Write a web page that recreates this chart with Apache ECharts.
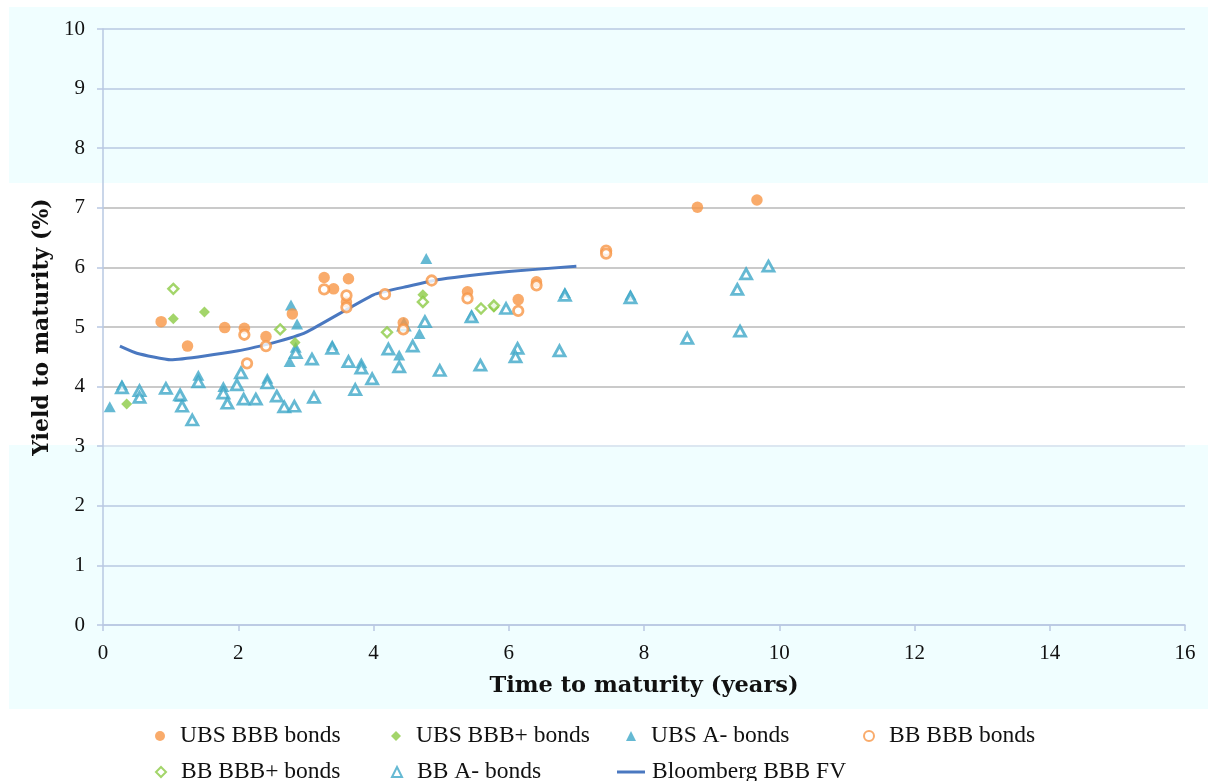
<!DOCTYPE html>
<html>
<head>
<meta charset="utf-8">
<script src="https://cdn.jsdelivr.net/npm/echarts@6/dist/echarts.min.js"></script>
<style>html,body{margin:0;padding:0;background:#fff}#c{width:1208px;height:781px}</style>
</head>
<body>
<div id="c"></div>
<script>
// ---- data ----
const ubsBBB = [[0.86,5.09],[1.25,4.68],[1.80,4.99],[2.09,4.98],[2.41,4.84],[2.80,5.22],[3.27,5.83],[3.41,5.64],[3.63,5.81],[3.60,5.42],[4.44,5.07],[5.39,5.59],[6.14,5.46],[6.41,5.76],[8.79,7.01],[9.67,7.13]];
const ubsBBBplus = [[0.35,3.71],[1.04,5.14],[1.50,5.25],[2.84,4.74],[4.73,5.54],[5.78,5.33]];
const ubsAminus = [[0.10,3.66],[0.28,4.03],[1.14,3.84],[1.41,4.19],[1.78,4.00],[2.43,4.14],[2.76,4.42],[2.78,5.37],[2.87,5.05],[2.85,4.66],[3.39,4.70],[3.82,4.40],[4.38,4.53],[4.68,4.89],[4.78,6.15],[5.45,5.20],[6.83,5.58],[7.80,5.54]];
const bbBBB = [[2.09,4.87],[2.13,4.39],[2.41,4.68],[3.27,5.63],[3.60,5.53],[3.60,5.33],[4.17,5.55],[4.44,4.96],[4.86,5.78],[5.39,5.48],[6.14,5.27],[6.41,5.70],[7.44,6.28],[7.44,6.23]];
const bbBBBplus = [[1.04,5.64],[2.62,4.96],[4.20,4.91],[4.73,5.42],[5.59,5.31],[5.78,5.36]];
const bbAminus = [[0.28,3.98],[0.54,3.93],[0.54,3.82],[0.93,3.97],[1.14,3.86],[1.17,3.67],[1.32,3.44],[1.41,4.08],[1.78,3.89],[1.84,3.72],[1.98,4.03],[2.04,4.23],[2.08,3.79],[2.26,3.79],[2.43,4.06],[2.57,3.84],[2.68,3.66],[2.83,3.67],[2.85,4.57],[3.09,4.46],[3.12,3.82],[3.39,4.64],[3.63,4.42],[3.73,3.95],[3.82,4.31],[3.98,4.13],[4.22,4.63],[4.38,4.33],[4.45,5.03],[4.58,4.68],[4.76,5.09],[4.98,4.27],[5.45,5.17],[5.58,4.36],[5.96,5.31],[6.13,4.64],[6.10,4.50],[6.75,4.60],[6.83,5.53],[7.80,5.49],[8.64,4.81],[9.38,5.63],[9.42,4.93],[9.51,5.89],[9.84,6.02]];
const fvTenor = [0.25,0.5,1,2,2.5,3,4,4.5,5,6,7];
const fvYield = [4.68,4.56,4.45,4.60,4.73,4.91,5.54,5.68,5.80,5.93,6.02];
const seriesNames = ['UBS BBB bonds','UBS BBB+ bonds','UBS A- bonds','BB BBB bonds','BB BBB+ bonds','BB A- bonds','Bloomberg BBB FV'];

const ORANGE = '#F79646', GREEN = '#8CCB45', AQUA = '#3FA8C8', BLUE = '#4A78C0';
const FONT = '"Liberation Serif", "Times New Roman", serif';
const BOLDFONT = '"DejaVu Serif", serif';
const GRID_BLUE = '#b9c8e2', GRID_GREY = '#b8b8b8';

const chart = echarts.init(document.getElementById('c'), null, {renderer: 'canvas'});

function leg(name, cx, cy, isLine) {
  return {
    data: isLine ? [{name: name, icon: 'rect'}] : [name],
    top: cy - 10,
    padding: 0,
    itemHeight: isLine ? 3 : 10,
    itemWidth: isLine ? 28 : 10,
    left: isLine ? cx : cx - 5,
    selectedMode: false,
    textStyle: {fontFamily: FONT, fontSize: 23.5, color: '#111', padding: [0, 0, 0, isLine ? 2 : 10]}
  };
}

chart.setOption({
  backgroundColor: '#ffffff',
  animation: false,
  graphic: [
    {type: 'rect', z: -10, shape: {x: 9, y: 7, width: 1199, height: 702}, style: {fill: '#F0FEFF'}, silent: true},
    {type: 'rect', z: -9, shape: {x: 9, y: 183, width: 1199, height: 262}, style: {fill: '#ffffff'}, silent: true}
  ],
  grid: {left: 103, right: 23, top: 29, bottom: 156, containLabel: false},
  xAxis: {
    type: 'value', min: 0, max: 16, interval: 2,
    name: 'Time to maturity (years)', nameLocation: 'middle', nameGap: 50,
    nameTextStyle: {fontFamily: BOLDFONT, fontSize: 22.5, fontWeight: 'bold', color: '#111'},
    axisLine: {show: true, lineStyle: {color: GRID_BLUE, width: 1.5}},
    axisTick: {show: true, length: 6, lineStyle: {color: GRID_BLUE, width: 1.5}},
    axisLabel: {fontFamily: FONT, fontSize: 21, color: '#111', margin: 18},
    splitLine: {show: false}
  },
  yAxis: {
    type: 'value', min: 0, max: 10, interval: 1,
    name: 'Yield to maturity (%)', nameLocation: 'middle', nameGap: 46,
    nameTextStyle: {fontFamily: BOLDFONT, fontSize: 22, fontWeight: 'bold', color: '#111'},
    axisLine: {show: true, lineStyle: {color: GRID_BLUE, width: 1.5}},
    axisTick: {show: true, length: 6, lineStyle: {color: GRID_BLUE, width: 1.5}},
    axisLabel: {fontFamily: FONT, fontSize: 21, color: '#111', margin: 18},
    splitLine: {show: true, lineStyle: {width: 1.5, color: [GRID_BLUE, GRID_BLUE, GRID_BLUE, '#d6dfec', GRID_GREY, GRID_GREY, GRID_GREY, GRID_GREY, GRID_BLUE, GRID_BLUE, GRID_BLUE]}}
  },
  legend: [
    leg(seriesNames[0], 160, 734),
    leg(seriesNames[1], 396, 734),
    leg(seriesNames[2], 631, 734),
    leg(seriesNames[3], 868, 734),
    leg(seriesNames[4], 160, 770),
    leg(seriesNames[5], 396, 770),
    leg(seriesNames[6], 617, 770, true)
  ],
  series: [
    {name: seriesNames[6], type: 'line', data: fvTenor.map((t, i) => [t, fvYield[i]]), smooth: 0.15, showSymbol: false, symbol: 'none', lineStyle: {color: BLUE, width: 3}, itemStyle: {color: BLUE}, z: 1},
    {name: seriesNames[2], type: 'scatter', data: ubsAminus, symbol: 'triangle', symbolSize: [12, 11], itemStyle: {color: AQUA}, z: 2},
    {name: seriesNames[5], type: 'scatter', data: bbAminus, symbol: 'triangle', symbolSize: [11, 10], itemStyle: {color: '#ffffff', borderColor: AQUA, borderWidth: 2.8}, z: 3},
    {name: seriesNames[1], type: 'scatter', data: ubsBBBplus, symbol: 'diamond', symbolSize: 11, itemStyle: {color: GREEN}, z: 4},
    {name: seriesNames[4], type: 'scatter', data: bbBBBplus, symbol: 'diamond', symbolSize: 10, itemStyle: {color: '#ffffff', borderColor: GREEN, borderWidth: 2.4}, z: 5},
    {name: seriesNames[0], type: 'scatter', data: ubsBBB, symbol: 'circle', symbolSize: 11.5, itemStyle: {color: ORANGE}, z: 6},
    {name: seriesNames[3], type: 'scatter', data: bbBBB, symbol: 'circle', symbolSize: 9.5, itemStyle: {color: '#ffffff', borderColor: ORANGE, borderWidth: 2.8}, z: 7}
  ]
});
</script>
</body>
</html>
